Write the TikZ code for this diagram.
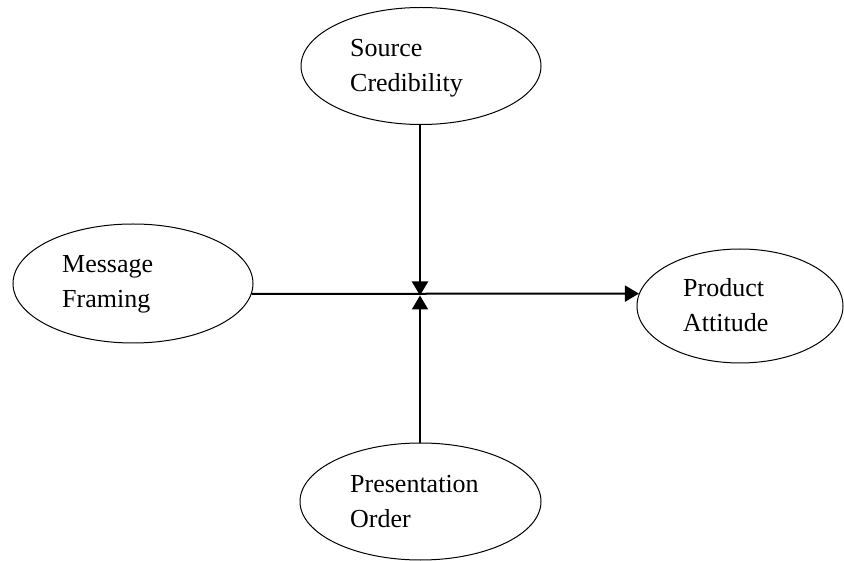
\documentclass[tikz,border=0pt]{standalone}
\usepackage{fontspec}
\setmainfont{Liberation Serif}
\usetikzlibrary{shapes.geometric,arrows.meta}
\begin{document}
\begin{tikzpicture}[x=1pt,y=-1pt,
  oval/.style={draw, ellipse, line width=1pt, inner sep=0pt},
  lbl/.style={anchor=base west, inner sep=0pt, font=\fontsize{26}{30}\selectfont},
  conn/.style={line width=2pt},
  tip/.style={-{Triangle[length=14pt,width=16pt]}}]
\useasboundingbox (0,0) rectangle (844,561);
\node[oval, minimum width=240pt, minimum height=117pt] (src) at (421,66) {};
\node[oval, minimum width=240pt, minimum height=119pt] (msg) at (133,283.5) {};
\node[oval, minimum width=206pt, minimum height=114pt] (prod) at (740,306) {};
\node[oval, minimum width=241pt, minimum height=117pt] (pres) at (420.5,501.5) {};
\node[lbl] (src1) at (350,57) {Source};
\node[lbl] (src2) at (350,92) {Credibility};
\node[lbl] (msg1) at (62,273) {Message};
\node[lbl] (msg2) at (62,308) {Framing};
\node[lbl] (prod1) at (683,297) {Product};
\node[lbl] (prod2) at (683,332) {Attitude};
\node[lbl] (pres1) at (350,492) {Presentation};
\node[lbl] (pres2) at (350,527) {Order};
\coordinate (J) at (420,295.5);
\draw[conn, tip] (J |- src.south) -- (J);
\draw[conn, tip] (J |- pres.north) -- (J);
\draw[conn, tip] (msg.-5.8) -- (prod.173.8);
\end{tikzpicture}
\end{document}
